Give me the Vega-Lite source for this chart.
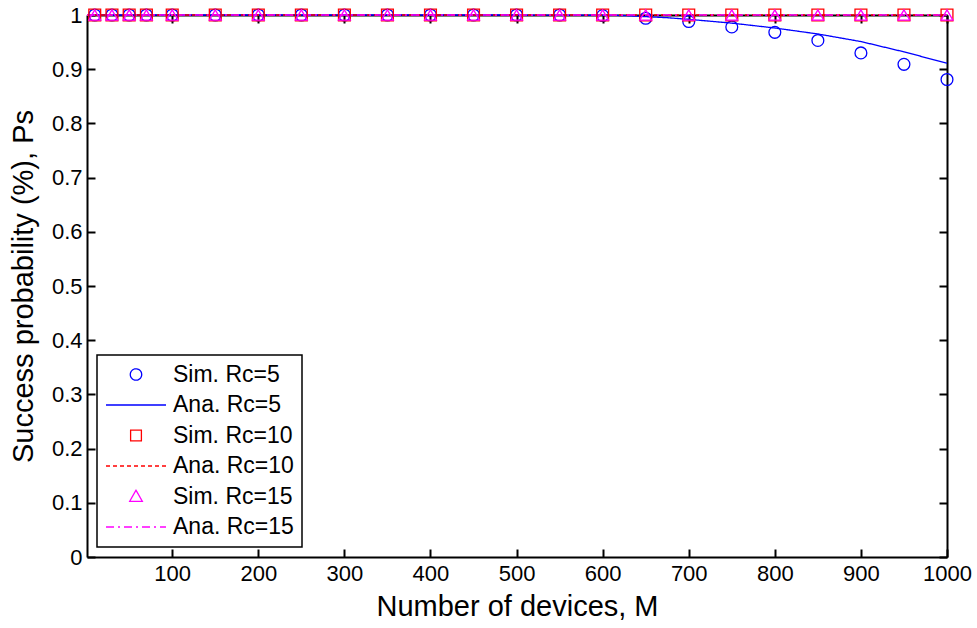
{
  "$schema": "https://vega.github.io/schema/vega-lite/v6.json",
  "width": 860,
  "height": 542,
  "autosize": "none",
  "padding": {"left": 87, "top": 15, "right": 30, "bottom": 71},
  "background": "white",
  "config": {
    "view": {"stroke": null},
    "font": "Liberation Sans",
    "axis": {
      "grid": false,
      "domainColor": "black",
      "domainWidth": 2,
      "tickColor": "black",
      "tickWidth": 2,
      "tickSize": -8,
      "labelFont": "Liberation Sans",
      "labelFontSize": 22,
      "labelColor": "black",
      "labelFlush": false,
      "labelOverlap": false,
      "titleFont": "Liberation Sans",
      "titleFontSize": 29,
      "titleFontWeight": "normal",
      "titleColor": "black"
    }
  },
  "data": {
    "values": [
      {"series": "Sim. Rc=5", "M": 10, "Ps": 1},
      {"series": "Sim. Rc=5", "M": 30, "Ps": 1},
      {"series": "Sim. Rc=5", "M": 50, "Ps": 1},
      {"series": "Sim. Rc=5", "M": 70, "Ps": 1},
      {"series": "Sim. Rc=5", "M": 100, "Ps": 1},
      {"series": "Sim. Rc=5", "M": 150, "Ps": 1},
      {"series": "Sim. Rc=5", "M": 200, "Ps": 1},
      {"series": "Sim. Rc=5", "M": 250, "Ps": 1},
      {"series": "Sim. Rc=5", "M": 300, "Ps": 1},
      {"series": "Sim. Rc=5", "M": 350, "Ps": 1},
      {"series": "Sim. Rc=5", "M": 400, "Ps": 1},
      {"series": "Sim. Rc=5", "M": 450, "Ps": 1},
      {"series": "Sim. Rc=5", "M": 500, "Ps": 1},
      {"series": "Sim. Rc=5", "M": 550, "Ps": 1},
      {"series": "Sim. Rc=5", "M": 600, "Ps": 0.999},
      {"series": "Sim. Rc=5", "M": 650, "Ps": 0.994},
      {"series": "Sim. Rc=5", "M": 700, "Ps": 0.988},
      {"series": "Sim. Rc=5", "M": 750, "Ps": 0.978},
      {"series": "Sim. Rc=5", "M": 800, "Ps": 0.968},
      {"series": "Sim. Rc=5", "M": 850, "Ps": 0.953},
      {"series": "Sim. Rc=5", "M": 900, "Ps": 0.93},
      {"series": "Sim. Rc=5", "M": 950, "Ps": 0.909},
      {"series": "Sim. Rc=5", "M": 1000, "Ps": 0.881},
      {"series": "Sim. Rc=10", "M": 10, "Ps": 1},
      {"series": "Sim. Rc=10", "M": 30, "Ps": 1},
      {"series": "Sim. Rc=10", "M": 50, "Ps": 1},
      {"series": "Sim. Rc=10", "M": 70, "Ps": 1},
      {"series": "Sim. Rc=10", "M": 100, "Ps": 1},
      {"series": "Sim. Rc=10", "M": 150, "Ps": 1},
      {"series": "Sim. Rc=10", "M": 200, "Ps": 1},
      {"series": "Sim. Rc=10", "M": 250, "Ps": 1},
      {"series": "Sim. Rc=10", "M": 300, "Ps": 1},
      {"series": "Sim. Rc=10", "M": 350, "Ps": 1},
      {"series": "Sim. Rc=10", "M": 400, "Ps": 1},
      {"series": "Sim. Rc=10", "M": 450, "Ps": 1},
      {"series": "Sim. Rc=10", "M": 500, "Ps": 1},
      {"series": "Sim. Rc=10", "M": 550, "Ps": 1},
      {"series": "Sim. Rc=10", "M": 600, "Ps": 1},
      {"series": "Sim. Rc=10", "M": 650, "Ps": 1},
      {"series": "Sim. Rc=10", "M": 700, "Ps": 1},
      {"series": "Sim. Rc=10", "M": 750, "Ps": 1},
      {"series": "Sim. Rc=10", "M": 800, "Ps": 1},
      {"series": "Sim. Rc=10", "M": 850, "Ps": 1},
      {"series": "Sim. Rc=10", "M": 900, "Ps": 1},
      {"series": "Sim. Rc=10", "M": 950, "Ps": 1},
      {"series": "Sim. Rc=10", "M": 1000, "Ps": 1},
      {"series": "Sim. Rc=15", "M": 10, "Ps": 1},
      {"series": "Sim. Rc=15", "M": 30, "Ps": 1},
      {"series": "Sim. Rc=15", "M": 50, "Ps": 1},
      {"series": "Sim. Rc=15", "M": 70, "Ps": 1},
      {"series": "Sim. Rc=15", "M": 100, "Ps": 1},
      {"series": "Sim. Rc=15", "M": 150, "Ps": 1},
      {"series": "Sim. Rc=15", "M": 200, "Ps": 1},
      {"series": "Sim. Rc=15", "M": 250, "Ps": 1},
      {"series": "Sim. Rc=15", "M": 300, "Ps": 1},
      {"series": "Sim. Rc=15", "M": 350, "Ps": 1},
      {"series": "Sim. Rc=15", "M": 400, "Ps": 1},
      {"series": "Sim. Rc=15", "M": 450, "Ps": 1},
      {"series": "Sim. Rc=15", "M": 500, "Ps": 1},
      {"series": "Sim. Rc=15", "M": 550, "Ps": 1},
      {"series": "Sim. Rc=15", "M": 600, "Ps": 1},
      {"series": "Sim. Rc=15", "M": 650, "Ps": 1},
      {"series": "Sim. Rc=15", "M": 700, "Ps": 1},
      {"series": "Sim. Rc=15", "M": 750, "Ps": 1},
      {"series": "Sim. Rc=15", "M": 800, "Ps": 1},
      {"series": "Sim. Rc=15", "M": 850, "Ps": 1},
      {"series": "Sim. Rc=15", "M": 900, "Ps": 1},
      {"series": "Sim. Rc=15", "M": 950, "Ps": 1},
      {"series": "Sim. Rc=15", "M": 1000, "Ps": 1},
      {"series": "Ana. Rc=5", "M": 1, "Ps": 1},
      {"series": "Ana. Rc=5", "M": 500, "Ps": 1},
      {"series": "Ana. Rc=5", "M": 600, "Ps": 0.9995},
      {"series": "Ana. Rc=5", "M": 625, "Ps": 0.999},
      {"series": "Ana. Rc=5", "M": 650, "Ps": 0.997},
      {"series": "Ana. Rc=5", "M": 675, "Ps": 0.995},
      {"series": "Ana. Rc=5", "M": 700, "Ps": 0.992},
      {"series": "Ana. Rc=5", "M": 750, "Ps": 0.985},
      {"series": "Ana. Rc=5", "M": 800, "Ps": 0.976},
      {"series": "Ana. Rc=5", "M": 850, "Ps": 0.965},
      {"series": "Ana. Rc=5", "M": 900, "Ps": 0.951},
      {"series": "Ana. Rc=5", "M": 950, "Ps": 0.932},
      {"series": "Ana. Rc=5", "M": 1000, "Ps": 0.911},
      {"series": "Ana. Rc=10", "M": 1, "Ps": 1},
      {"series": "Ana. Rc=10", "M": 1000, "Ps": 1},
      {"series": "Ana. Rc=15", "M": 1, "Ps": 1},
      {"series": "Ana. Rc=15", "M": 1000, "Ps": 1}
    ]
  },
  "resolve": {"axis": {"x": "independent", "y": "independent"}},
  "layer": [
    {
      "transform": [{"filter": "indexof(datum.series, 'Ana') == 0"}],
      "mark": {"type": "line", "strokeWidth": 1.3, "clip": false},
      "encoding": {
        "x": {
          "field": "M", "type": "quantitative",
          "scale": {"domain": [1, 1000], "nice": false, "zero": false},
          "axis": {"orient": "bottom", "values": [100, 200, 300, 400, 500, 600, 700, 800, 900, 1000], "format": "d", "title": "Number of devices, M", "labelPadding": 14, "titlePadding": 8}
        },
        "y": {
          "field": "Ps", "type": "quantitative",
          "scale": {"domain": [0, 1], "nice": false, "zero": false},
          "axis": {"orient": "left", "values": [0, 0.1, 0.2, 0.3, 0.4, 0.5, 0.6, 0.7, 0.8, 0.9, 1], "format": "~g", "title": "Success probability (%), Ps", "labelPadding": 13, "titlePadding": 13}
        },
        "color": {
          "field": "series", "type": "nominal",
          "scale": {"domain": ["Sim. Rc=5", "Ana. Rc=5", "Sim. Rc=10", "Ana. Rc=10", "Sim. Rc=15", "Ana. Rc=15"], "range": ["#0000FF", "#0000FF", "#FF0000", "#FF0000", "#FF00FF", "#FF00FF"]},
          "legend": {
            "title": null, "orient": "bottom-left", "offset": 10,
            "fillColor": "white", "strokeColor": "black",
            "padding": 8, "rowPadding": 6.5, "clipHeight": 23,
            "labelFont": "Liberation Sans", "labelFontSize": 23, "labelColor": "black", "labelOffset": 6,
            "symbolSize": 3600, "symbolStrokeWidth": 1.3,
            "encode": {
              "legend": {"update": {"strokeWidth": {"value": 1.5}}},
              "symbols": {"update": {
                "shape": {"signal": "datum.value == 'Sim. Rc=5' ? 'M-0.19,0A0.19,0.19 0 1,0 0.19,0A0.19,0.19 0 1,0 -0.19,0Z' : datum.value == 'Sim. Rc=10' ? 'M-0.18,-0.18H0.18V0.18H-0.18Z' : datum.value == 'Sim. Rc=15' ? 'M0,-0.21L0.21,0.16H-0.21Z' : 'M-1,0H1'"},
                "strokeDash": {"signal": "datum.value == 'Ana. Rc=10' ? [4,3] : datum.value == 'Ana. Rc=15' ? [8,4,2,4] : [1,0]"},
                "fill": {"value": "transparent"},
                "stroke": {"scale": "color", "field": "value"},
                "strokeWidth": {"value": 1.3},
                "opacity": {"value": 1}
              }}
            }
          }
        },
        "strokeDash": {
          "field": "series", "type": "nominal",
          "scale": {"domain": ["Ana. Rc=5", "Ana. Rc=10", "Ana. Rc=15"], "range": [[1, 0], [4, 3], [8, 4, 2, 4]]},
          "legend": null
        }
      }
    },
    {
      "transform": [{"filter": "indexof(datum.series, 'Sim') == 0"}],
      "mark": {"type": "point", "filled": false, "strokeWidth": 1.3, "size": 140, "opacity": 1, "clip": false},
      "encoding": {
        "x": {
          "field": "M", "type": "quantitative",
          "axis": {"orient": "top", "values": [100, 200, 300, 400, 500, 600, 700, 800, 900, 1000], "labels": false, "title": null}
        },
        "y": {
          "field": "Ps", "type": "quantitative",
          "axis": {"orient": "right", "values": [0, 0.1, 0.2, 0.3, 0.4, 0.5, 0.6, 0.7, 0.8, 0.9, 1], "labels": false, "title": null}
        },
        "color": {
          "field": "series", "type": "nominal",
          "legend": {
            "title": null, "orient": "bottom-left", "offset": 10,
            "fillColor": "white", "strokeColor": "black",
            "padding": 8, "rowPadding": 6.5, "clipHeight": 23,
            "labelFont": "Liberation Sans", "labelFontSize": 23, "labelColor": "black", "labelOffset": 6,
            "symbolSize": 3600, "symbolStrokeWidth": 1.3,
            "encode": {
              "legend": {"update": {"strokeWidth": {"value": 1.5}}},
              "symbols": {"update": {
                "shape": {"signal": "datum.value == 'Sim. Rc=5' ? 'M-0.19,0A0.19,0.19 0 1,0 0.19,0A0.19,0.19 0 1,0 -0.19,0Z' : datum.value == 'Sim. Rc=10' ? 'M-0.18,-0.18H0.18V0.18H-0.18Z' : datum.value == 'Sim. Rc=15' ? 'M0,-0.21L0.21,0.16H-0.21Z' : 'M-1,0H1'"},
                "strokeDash": {"signal": "datum.value == 'Ana. Rc=10' ? [4,3] : datum.value == 'Ana. Rc=15' ? [8,4,2,4] : [1,0]"},
                "fill": {"value": "transparent"},
                "stroke": {"scale": "color", "field": "value"},
                "strokeWidth": {"value": 1.3},
                "opacity": {"value": 1}
              }}
            }
          }
        },
        "shape": {
          "field": "series", "type": "nominal",
          "scale": {"domain": ["Sim. Rc=5", "Sim. Rc=10", "Sim. Rc=15"], "range": ["circle", "square", "triangle-up"]},
          "legend": null
        }
      }
    }
  ]
}
